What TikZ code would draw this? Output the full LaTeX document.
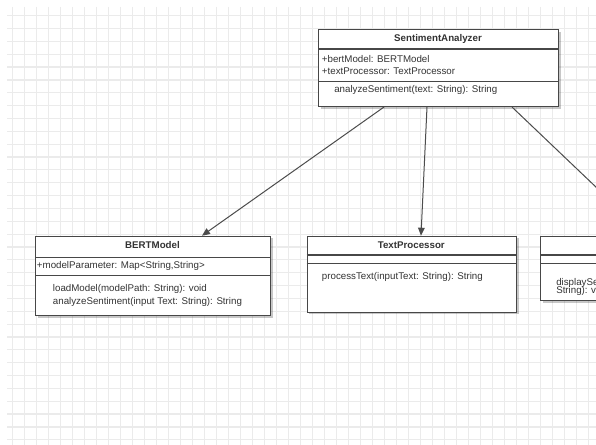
\documentclass[tikz,border=0pt]{standalone}
\usepackage{fontspec}
\setmainfont{Liberation Sans}
\usetikzlibrary{arrows.meta,shadows,calc}
\begin{document}
\begin{tikzpicture}[x=0.75pt,y=-0.75pt,
  gridline/.style={draw=black!8,line width=0.9pt},
  umlbox/.style={draw=black!72,line width=0.8pt,fill=white,inner sep=0pt,anchor=north west,
    drop shadow={shadow xshift=1.6pt,shadow yshift=-1.6pt,opacity=0.22,fill=black}},
  sepline/.style={draw=black!72,line width=0.8pt},
  umltext/.style={inner sep=0pt,font=\fontsize{7.3}{8.8}\selectfont,text=black!80},
  umltitle/.style={umltext,font=\fontsize{7.3}{8.8}\selectfont\bfseries},
  assoc/.style={draw=black!70,line width=0.75pt,-{Triangle[length=6pt,width=5pt]}}]
\useasboundingbox (0,0) rectangle (596,445);
\clip (0,0) rectangle (596,445);
\fill[white] (0,0) rectangle (596,445);
% grid
\foreach \i in {0,...,48} \draw[gridline] ({12.7+12*\i},7) -- ({12.7+12*\i},445);
\foreach \j in {0,...,33} \draw[gridline] (7,{15.7+12.85*\j}) -- (596,{15.7+12.85*\j});

% SentimentAnalyzer
\node[umlbox,minimum width=180pt,minimum height=57.5pt] (sa) at (318,29.3) {};
\draw[sepline] ($(sa.north west)+(0,19.7)$) -- ($(sa.north east)+(0,19.7)$);
\draw[sepline] ($(sa.north west)+(0,52.4)$) -- ($(sa.north east)+(0,52.4)$);
\node[umltitle] (satitle) at (438,39) {SentimentAnalyzer};
\node[umltext,anchor=west] (saa1) at (321.7,59.3) {+bertModel: BERTModel};
\node[umltext,anchor=west] (saa2) at (321.7,71) {+textProcessor: TextProcessor};
\node[umltext,anchor=west] (sam1) at (334,90) {analyzeSentiment(text: String): String};

% BERTModel
\node[umlbox,minimum width=176.25pt,minimum height=59.5pt] (bm) at (35,235.7) {};
\draw[sepline] ($(bm.north west)+(0,22)$) -- ($(bm.north east)+(0,22)$);
\draw[sepline] ($(bm.north west)+(0,40)$) -- ($(bm.north east)+(0,40)$);
\node[umltitle] (bmtitle) at (152.5,245) {BERTModel};
\node[umltext,anchor=west] (bma1) at (36.7,265.7) {+modelParameter: Map<String,String>};
\node[umltext,anchor=west] (bmm1) at (52.7,289.3) {loadModel(modelPath: String): void};
\node[umltext,anchor=west] (bmm2) at (52.7,301.7) {analyzeSentiment(input Text: String): String};

% TextProcessor
\node[umlbox,minimum width=157pt,minimum height=57pt] (tp) at (306.7,235.7) {};
\draw[sepline] ($(tp.north west)+(0,19.3)$) -- ($(tp.north east)+(0,19.3)$);
\draw[sepline] ($(tp.north west)+(0,27.6)$) -- ($(tp.north east)+(0,27.6)$);
\node[umltitle] (tptitle) at (411.3,245) {TextProcessor};
\node[umltext,anchor=west] (tpm1) at (321.7,276.7) {processText(inputText: String): String};

% third class (cut off at the right edge)
\node[umlbox,minimum width=157.5pt,minimum height=48.2pt] (rv) at (540,235.7) {};
\draw[sepline] ($(rv.north west)+(0,19.3)$) -- ($(rv.north east)+(0,19.3)$);
\draw[sepline] ($(rv.north west)+(0,27.6)$) -- ($(rv.north east)+(0,27.6)$);
\node[umltext,anchor=west] (rvm1) at (556,282.5) {displaySentiment(sentiment:};
\node[umltext,anchor=west] (rvm2) at (556,290.5) {String): void};

% associations
\draw[assoc] ($(sa.south west)+(66,0)$) -- ($(bm.north west)+(167,0)$);
\draw[assoc] ($(sa.south west)+(109,0)$) -- ($(tp.north west)+(114.3,0)$);
\draw[assoc] ($(sa.south west)+(194,0)$) -- ($(rv.north west)+(107,0)$);
\end{tikzpicture}
\end{document}
